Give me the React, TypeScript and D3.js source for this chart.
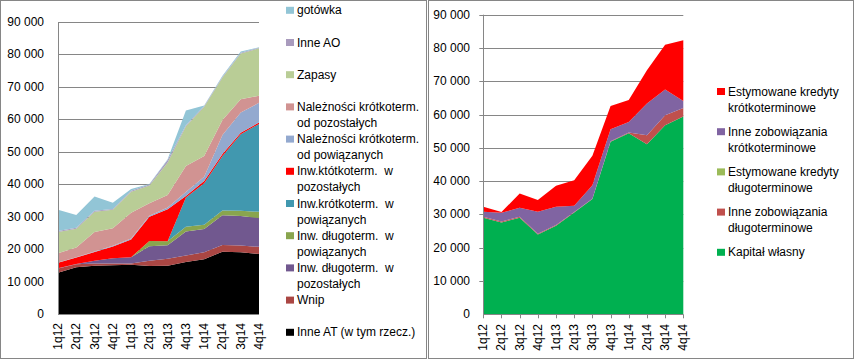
import React from 'react';
import * as d3 from 'd3';

const quarters = ['1q12', '2q12', '3q12', '4q12', '1q13', '2q13', '3q13', '4q13', '1q14', '2q14', '3q14', '4q14'];
const yTicks = [0, 10000, 20000, 30000, 40000, 50000, 60000, 70000, 80000, 90000];

// Left chart (assets), bottom to top
const inneAT = [12700, 14400, 14900, 15000, 15200, 14800, 14900, 16000, 16900, 19200, 19000, 18500];
const wnip = [1300, 900, 700, 600, 400, 1600, 2100, 2000, 2100, 2100, 2100, 2200];
const inwDlPozostalych = [100, 100, 800, 1600, 1900, 4500, 4200, 7400, 7200, 9100, 9100, 8900];
const inwDlPowiazanych = [0, 0, 0, 0, 0, 1600, 1200, 1500, 1300, 1500, 1600, 1900];
const inwKrPowiazanych = [0, 0, 0, 0, 0, 0, 0, 9000, 12800, 16800, 23600, 27100];
const inwKrPozostalych = [1700, 2000, 2700, 3600, 5500, 7500, 9900, 500, 700, 600, 500, 400];
const nalPowiazanych = [100, 100, 200, 200, 300, 300, 500, 1200, 1300, 5900, 6200, 6100];
const nalPozostalych = [2800, 3000, 6000, 5400, 7900, 3800, 3900, 8000, 6400, 4600, 4100, 2200];
const zapasy = [6600, 5800, 6200, 5700, 6500, 5500, 10000, 12300, 15200, 13100, 14100, 14600];
const inneAO = [300, 300, 300, 300, 300, 300, 800, 300, 200, 200, 200, 200];
const gotowka = [6500, 3900, 4400, 1900, 500, 200, 200, 4500, 200, 300, 400, 100];

// Right chart (liabilities & equity), bottom to top
const kapitalWlasny = [29000, 27600, 29000, 24000, 26600, 30600, 34600, 51800, 54400, 51100, 56800, 59400];
const inneZobDl = [300, 300, 300, 200, 200, 100, 100, 200, 200, 2700, 3000, 2600];
const estKredDl = [0, 0, 0, 0, 0, 0, 0, 0, 0, 0, 0, 0];
const inneZobKr = [1500, 2600, 2700, 6600, 5500, 1900, 4100, 3600, 3200, 9500, 7700, 2100];
const estKredKr = [1500, 200, 4300, 3500, 6300, 7700, 8800, 7000, 6600, 10000, 13500, 18200];

const leftSeries = [
  { values: inneAT, color: '#000000', label: ['Inne AT (w tym rzecz.)'] },
  { values: wnip, color: '#AA4643', label: ['Wnip'] },
  { values: inwDlPozostalych, color: '#71588F', label: ['Inw. długoterm.  w', 'pozostałych'] },
  { values: inwDlPowiazanych, color: '#89A54E', label: ['Inw. długoterm.  w', 'powiązanych'] },
  { values: inwKrPowiazanych, color: '#4198AF', label: ['Inw.krótkoterm.  w', 'powiązanych'] },
  { values: inwKrPozostalych, color: '#FF0000', label: ['Inw.któtkoterm.  w', 'pozostałych'] },
  { values: nalPowiazanych, color: '#93A9CF', label: ['Należności krótkoterm.', 'od powiązanych'] },
  { values: nalPozostalych, color: '#D19392', label: ['Należności krótkoterm.', 'od pozostałych'] },
  { values: zapasy, color: '#B9CD96', label: ['Zapasy'] },
  { values: inneAO, color: '#A99BBD', label: ['Inne AO'] },
  { values: gotowka, color: '#92C5D6', label: ['gotówka'] },
];

const rightSeries = [
  { values: kapitalWlasny, color: '#00B050', label: ['Kapitał własny'] },
  { values: inneZobDl, color: '#C0504D', label: ['Inne zobowiązania', 'długoterminowe'] },
  { values: estKredDl, color: '#9BBB59', label: ['Estymowane kredyty', 'długoterminowe'] },
  { values: inneZobKr, color: '#8064A2', label: ['Inne zobowiązania', 'krótkoterminowe'] },
  { values: estKredKr, color: '#FF0000', label: ['Estymowane kredyty', 'krótkoterminowe'] },
];

const FONT = 'Liberation Sans, Arial, sans-serif';
const locale = d3.formatLocale({ decimal: ',', thousands: '\u00a0', grouping: [3], currency: ['', ''] });
const fmt = locale.format(',');

type Series = { values: number[]; color: string; label: string[] };

function Panel(props: {
  series: Series[];
  x0: number; x1: number; yTop: number; yBottom: number;
  labelRight: number; xLabelTop: number; xTicks: boolean; yTickMarks: boolean;
  legendX: number; legendY0: number; legendStep: number; legendW: number;
}) {
  const { series, x0, x1, yTop, yBottom } = props;
  const x = d3.scalePoint<string>().domain(quarters).range([x0, x1]);
  const y = d3.scaleLinear().domain([0, 90000]).range([yBottom, yTop]);
  const table = quarters.map((q, i) => {
    const row: any = { q };
    series.forEach((s, k) => (row['s' + k] = s.values[i]));
    return row;
  });
  const stack = d3.stack<any>().keys(series.map((_, k) => 's' + k));
  const layers = stack(table);
  const area = d3
    .area<any>()
    .x((d) => x(d.data.q) as number)
    .y0((d) => y(d[0]))
    .y1((d) => y(d[1]));
  const gridColor = '#868686';
  const legendOrder = series.map((s, k) => ({ s, k })).reverse();
  return (
    <g>
      {yTicks.filter((t) => t > 0).map((t) => (
        <line key={t} x1={props.yTickMarks ? x0 - 4 : x0} x2={x1} y1={Math.round(y(t)) + 0.5} y2={Math.round(y(t)) + 0.5} stroke={gridColor} strokeWidth={1} />
      ))}
      {layers.map((layer, k) => (
        <path key={k} d={area(layer) || ''} fill={series[k].color} stroke="none" />
      ))}
      <line x1={Math.round(x0) + 0.5} x2={Math.round(x0) + 0.5} y1={yTop} y2={yBottom} stroke={gridColor} />
      <line x1={x0} x2={x1} y1={Math.round(yBottom) + 0.5} y2={Math.round(yBottom) + 0.5} stroke={gridColor} />
      {props.xTicks && quarters.map((q) => (
        <line key={q} x1={Math.round(x(q) as number) + 0.5} x2={Math.round(x(q) as number) + 0.5} y1={yBottom} y2={yBottom + 4} stroke={gridColor} />
      ))}
      {yTicks.map((t) => (
        <text key={t} x={props.labelRight} y={y(t)} textAnchor="end" dominantBaseline="central" fontSize={12} fontFamily={FONT} fill="#000">
          {fmt(t)}
        </text>
      ))}
      {quarters.map((q) => (
        <text key={q} transform={`translate(${x(q)},${props.xLabelTop}) rotate(-90)`} textAnchor="end" dominantBaseline="central" fontSize={12} fontFamily={FONT} fill="#000">
          {q}
        </text>
      ))}
      {legendOrder.map(({ s }, i) => {
        const ly = props.legendY0 + i * props.legendStep;
        return (
          <g key={i}>
            <rect x={props.legendX} y={ly - 3.5} width={props.legendW} height={7} fill={s.color} />
            {s.label.map((line, j) => (
              <text key={j} x={props.legendX + props.legendW + 3} y={ly + j * 16} dominantBaseline="central" fontSize={12} fontFamily={FONT} fill="#000" style={{ whiteSpace: 'pre' }}>
                {line}
              </text>
            ))}
          </g>
        );
      })}
    </g>
  );
}

export default function App() {
  return (
    <svg width={855} height={360} style={{ position: 'absolute', left: 0, top: 0, background: '#fff' }}>
      <rect x={0} y={0} width={855} height={360} fill="#fff" />
      <rect x={0.5} y={0.5} width={426} height={358} fill="#fff" stroke="#868686" />
      <rect x={428.5} y={0.5} width={425} height={358} fill="#fff" stroke="#868686" />
      <Panel
        series={leftSeries}
        x0={58} x1={259} yTop={22} yBottom={314}
        labelRight={44} xLabelTop={323} xTicks={false} yTickMarks={false}
        legendX={286} legendY0={10.3} legendStep={32.2} legendW={8}
      />
      <Panel
        series={rightSeries}
        x0={483.3} x1={683.3} yTop={14.7} yBottom={314.3}
        labelRight={470} xLabelTop={324} xTicks={true} yTickMarks={true}
        legendX={717} legendY0={91.5} legendStep={40.2} legendW={8}
      />
    </svg>
  );
}
